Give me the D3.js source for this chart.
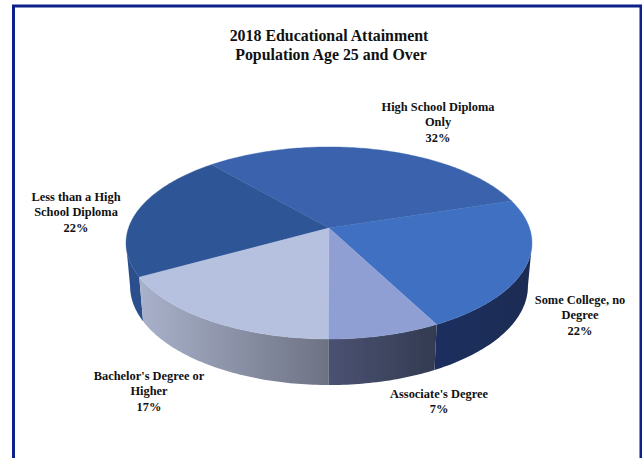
<!DOCTYPE html>
<html><head><meta charset="utf-8">
<script src="https://cdn.jsdelivr.net/npm/d3@7/dist/d3.min.js"></script>
<style>html,body{margin:0;padding:0;background:#fff}svg{display:block}text{font-family:"Liberation Serif",serif;font-weight:bold;fill:#111}</style>
</head><body><div id="c"></div>
<script>
const categories = ["Less than a High School Diploma","High School Diploma Only","Some College, no Degree","Associate's Degree","Bachelor's Degree or Higher"];
const percentLabels = ["22%","32%","22%","7%","17%"];
const drawnShares = [21.7,31.5,22.2,7.7,16.9];
const titleLines = ["2018 Educational Attainment","Population Age 25 and Over"];
const labelLines = [["Less than a High","School Diploma"],["High School Diploma","Only"],["Some College, no","Degree"],["Associate's Degree"],["Bachelor's Degree or","Higher"]];
const topColors = ["#2f5596","#3a64ad","#4070c1","#8f9fd4","#b6c1e0"];
const wallStops = [["#2a4f8c","#2a4f8c"],["#2a4f8c","#2a4f8c"],["#1a2f5e","#1b2c55"],["#4b5272","#333b52"],["#a9b2cb","#6d7283"]];
const labelPos = [[76,201],[438,111],[580,304],[439,398],[149,380]];

const W=642,H=458, svg=d3.select("#c").append("svg").attr("width",W).attr("height",H);
const cx=329,cy=228,R=200.5,A=93.7,k=0.156,TAU=Math.PI*2;
const start=241/360*TAU;
const arcs=d3.pie().sort(null).startAngle(start).endAngle(start+TAU)(drawnShares);
const topP=a=>{const x=Math.sin(a),y=-Math.cos(a),w=1-k*y;return [cx+R*x/w,cy+A*y/w];};
const botP=a=>{const p=topP(a);return [cx+(p[0]-cx)*0.98,cy+(p[1]-cy)*1.03+42.7];};
const sample=(f,a0,a1)=>{const n=Math.max(2,Math.ceil(Math.abs(a1-a0)*60));return d3.range(n+1).map(i=>f(a0+(a1-a0)*i/n));};
const line=d3.line();
const defs=svg.append("defs");
const f=defs.append("filter").attr("id","soft");f.append("feGaussianBlur").attr("stdDeviation",0.5);

// walls: only the near side of the disc shows
const visStart=99/360*TAU, visEnd=261/360*TAU;
const g=svg.append("g").attr("filter","url(#soft)");
const walls=[];
arcs.forEach((d,i)=>{
  [0,TAU].forEach(off=>{
    const a0=Math.max(d.startAngle-off,visStart),a1=Math.min(d.endAngle-off,visEnd);
    if(a1>a0) walls.push({i,a0,a1});
  });
});
walls.sort((a,b)=>Math.abs(b.a0-Math.PI)-Math.abs(a.a0-Math.PI));
walls.forEach((w,n)=>{
  const top=sample(topP,w.a0,w.a1),bot=sample(botP,w.a1,w.a0);
  const xs=top.concat(bot).map(p=>p[0]);
  const id="wall"+n;
  const lg=defs.append("linearGradient").attr("id",id).attr("gradientUnits","userSpaceOnUse")
    .attr("x1",d3.min(xs)).attr("x2",d3.max(xs)).attr("y1",0).attr("y2",0);
  const stops=wallStops[w.i];
  lg.append("stop").attr("offset",0).attr("stop-color",stops[0]);
  lg.append("stop").attr("offset",1).attr("stop-color",stops[1]);
  g.append("path").attr("d",line(top.concat(bot))+"Z").attr("fill",`url(#${id})`);
});
// top faces
arcs.forEach((d,i)=>{
  const pts=[[cx,cy]].concat(sample(topP,d.startAngle,d.endAngle));
  g.append("path").attr("d",line(pts)+"Z").attr("fill",topColors[i]).attr("stroke",topColors[i]).attr("stroke-width",0.4);
});
// frame
svg.append("path").attr("d",`M13.5 458V6H641V458`).attr("fill","none").attr("stroke","#0c2188").attr("stroke-width",3);
// title
const t=svg.append("text").attr("text-anchor","middle").attr("font-size",15.9);
titleLines.forEach((s,i)=>t.append("tspan").attr("x",i?331:329).attr("y",41+i*19).text(s));
// labels
categories.forEach((c,i)=>{
  const [x,y]=labelPos[i];
  const el=svg.append("text").attr("text-anchor","middle").attr("font-size",12.4);
  labelLines[i].concat([percentLabels[i]]).forEach((s,j)=>el.append("tspan").attr("x",x).attr("y",y+j*15.3).text(s));
});
</script></body></html>
